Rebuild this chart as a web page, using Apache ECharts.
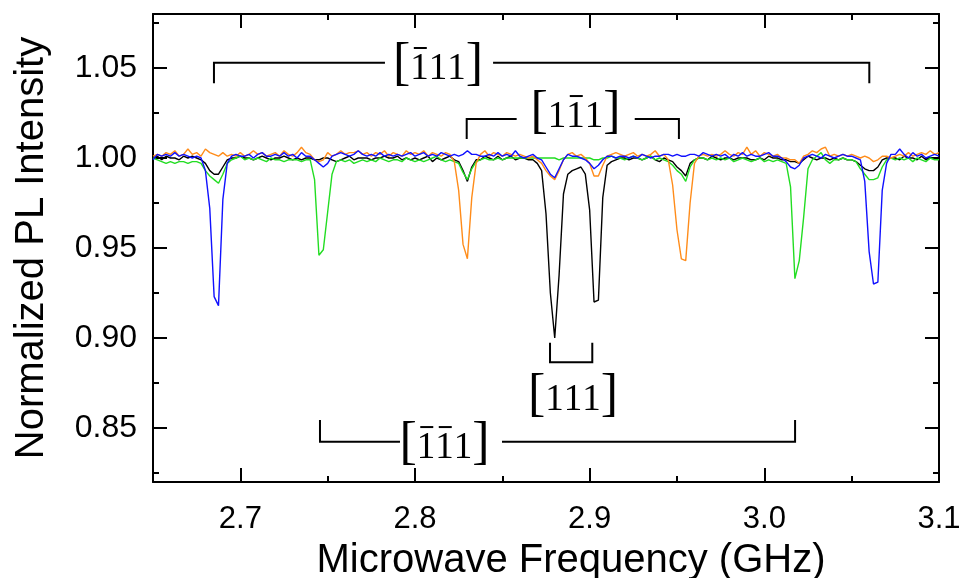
<!DOCTYPE html>
<html>
<head>
<meta charset="utf-8">
<script src="https://cdn.jsdelivr.net/npm/echarts@6/dist/echarts.min.js"></script>
<style>
  html, body { margin: 0; padding: 0; background: #fff; }
  #chart { width: 961px; height: 578px; }
</style>
</head>
<body>
<div id="chart"></div>
<script>
// Microwave frequency sweep (GHz)
const freq = [
  2.65,2.6525,2.655,2.6575,2.66,2.6625,2.665,2.6675,2.67,2.6725,
  2.675,2.6775,2.68,2.6825,2.685,2.6875,2.69,2.6925,2.695,2.6975,
  2.7,2.7025,2.705,2.7075,2.71,2.7125,2.715,2.7175,2.72,2.7225,
  2.725,2.7275,2.73,2.7325,2.735,2.7375,2.74,2.7425,2.745,2.7475,
  2.75,2.7525,2.755,2.7575,2.76,2.7625,2.765,2.7675,2.77,2.7725,
  2.775,2.7775,2.78,2.7825,2.785,2.7875,2.79,2.7925,2.795,2.7975,
  2.8,2.8025,2.805,2.8075,2.81,2.8125,2.815,2.8175,2.82,2.8225,
  2.825,2.8275,2.83,2.8325,2.835,2.8375,2.84,2.8425,2.845,2.8475,
  2.85,2.8525,2.855,2.8575,2.86,2.8625,2.865,2.8675,2.87,2.8725,
  2.875,2.8775,2.88,2.8825,2.885,2.8875,2.89,2.8925,2.895,2.8975,
  2.9,2.9025,2.905,2.9075,2.91,2.9125,2.915,2.9175,2.92,2.9225,
  2.925,2.9275,2.93,2.9325,2.935,2.9375,2.94,2.9425,2.945,2.9475,
  2.95,2.9525,2.955,2.9575,2.96,2.9625,2.965,2.9675,2.97,2.9725,
  2.975,2.9775,2.98,2.9825,2.985,2.9875,2.99,2.9925,2.995,2.9975,
  3,3.0025,3.005,3.0075,3.01,3.0125,3.015,3.0175,3.02,3.0225,
  3.025,3.0275,3.03,3.0325,3.035,3.0375,3.04,3.0425,3.045,3.0475,
  3.05,3.0525,3.055,3.0575,3.06,3.0625,3.065,3.0675,3.07,3.0725,
  3.075,3.0775,3.08,3.0825,3.085,3.0875,3.09,3.0925,3.095,3.0975,
  3.1
];

// Normalized PL, field along [111]
const plBlack = [
  1.000,1.001,0.999,1.001,1.000,1.000,0.999,1.001,1.000,1.001,
  1.000,0.999,0.997,0.993,0.991,0.991,0.995,0.999,1.000,1.000,
  1.001,1.000,1.000,0.999,1.000,1.001,1.000,0.999,1.000,1.000,
  1.001,1.000,0.999,1.000,0.999,1.000,1.000,0.999,0.999,1.000,
  1.000,0.999,0.998,0.999,1.000,1.001,0.999,1.000,1.000,1.000,
  0.999,1.000,1.000,1.001,1.000,1.000,1.001,0.999,1.000,0.999,
  1.000,0.999,1.000,1.001,0.998,1.000,0.999,1.000,1.001,0.999,
  0.998,0.993,0.987,0.995,0.999,0.999,1.001,1.000,0.999,1.001,
  0.999,1.000,1.001,0.999,1.000,1.000,0.999,0.999,0.997,0.993,
  0.969,0.925,0.900,0.935,0.980,0.991,0.993,0.994,0.995,0.991,
  0.971,0.920,0.921,0.978,0.996,0.998,0.999,1.000,1.000,0.999,
  1.000,1.000,0.999,1.000,1.001,0.999,0.998,1.000,0.999,0.998,
  0.995,0.993,0.990,0.997,0.999,1.000,1.000,0.999,1.001,1.000,
  0.999,1.000,1.000,0.999,1.000,1.000,1.000,0.999,0.999,1.000,
  0.999,1.001,1.000,1.000,0.999,0.999,0.998,0.998,0.997,0.999,
  1.001,1.000,0.999,1.000,1.000,0.999,1.000,0.999,1.000,0.999,
  0.999,0.998,0.996,0.994,0.993,0.993,0.995,0.999,1.000,1.000,
  1.000,0.999,1.001,1.000,1.000,0.999,1.001,0.999,1.000,1.000,
  0.999
];

// Normalized PL, field along [-111]
const plBlue = [
  0.999,1.002,1.001,1.002,1.001,1.003,1.001,1.002,1.001,1.000,
  1.001,1.000,0.993,0.972,0.923,0.918,0.977,0.997,1.001,1.002,
  1.001,1.001,1.002,1.000,1.002,1.003,1.001,1.001,1.002,1.001,
  1.003,1.001,1.002,1.000,1.003,1.001,1.001,0.999,0.997,0.995,
  0.997,1.001,1.002,1.003,1.002,1.001,1.002,1.004,1.002,1.001,
  1.002,1.001,1.003,1.001,1.002,1.001,1.002,1.001,1.002,1.003,
  1.001,1.002,1.003,1.001,1.002,1.001,1.003,1.002,1.001,1.002,
  1.001,1.002,1.004,1.002,1.002,1.001,1.001,1.002,1.001,1.003,
  1.001,1.002,1.001,1.004,1.001,1.000,1.001,1.002,1.000,0.999,
  0.995,0.991,0.989,0.994,0.999,1.002,1.001,1.001,1.000,0.999,
  0.997,0.994,0.996,0.999,1.001,1.001,1.000,1.001,1.001,1.000,
  1.001,1.000,1.002,1.001,1.000,1.001,1.001,1.002,1.002,1.001,
  1.002,1.001,1.001,1.002,1.002,1.001,1.003,1.002,1.001,1.002,
  1.001,1.002,1.000,1.002,1.001,1.003,1.001,1.002,1.001,1.001,
  1.002,1.003,1.001,1.001,1.000,0.998,0.995,0.994,0.996,1.000,
  1.001,1.002,1.001,1.000,1.002,1.001,1.000,1.001,1.002,1.001,
  1.001,1.000,0.999,0.987,0.948,0.930,0.931,0.982,0.997,1.002,
  1.002,1.005,1.002,1.000,1.003,1.001,1.002,1.000,1.001,1.002,
  1.001
];

// Normalized PL, field along [-1-11]
const plGreen = [
  1.000,0.999,0.998,0.997,0.998,0.997,0.998,0.998,0.997,0.998,
  0.998,0.997,0.993,0.990,0.988,0.986,0.991,0.997,0.999,1.000,
  1.001,0.999,1.000,0.999,1.000,0.999,0.998,1.000,0.999,0.999,
  0.998,0.999,0.999,0.999,0.998,0.999,0.999,0.988,0.946,0.949,
  0.970,0.991,0.998,0.999,0.998,0.999,0.997,0.998,0.999,0.998,
  0.999,0.998,1.000,0.999,0.998,0.999,0.999,0.998,1.000,0.999,
  0.998,0.999,0.998,0.999,1.000,1.001,0.999,0.998,0.999,0.998,
  0.997,0.992,0.988,0.994,0.998,0.999,1.000,0.999,0.999,1.000,
  0.999,1.000,1.000,1.000,1.000,1.000,1.000,1.000,1.000,1.000,
  1.000,1.000,1.000,0.999,1.000,1.000,1.000,1.000,1.000,1.000,
  1.000,0.999,0.999,1.000,1.000,1.001,1.000,1.000,0.999,1.000,
  1.001,1.000,0.999,1.000,1.001,0.999,1.000,0.999,0.998,0.996,
  0.993,0.991,0.987,0.995,0.999,1.000,1.000,0.999,1.000,0.999,
  1.000,0.999,1.000,0.998,0.999,1.000,0.999,0.998,0.999,1.000,
  0.998,0.999,0.998,0.999,0.998,0.997,0.984,0.933,0.943,0.967,
  0.994,0.999,1.001,1.003,0.999,0.997,0.999,0.999,1.000,0.999,
  0.999,0.998,0.994,0.991,0.988,0.988,0.989,0.995,0.999,1.000,
  0.999,1.000,0.999,1.000,0.998,1.000,0.999,0.998,1.000,0.999,
  0.999
];

// Normalized PL, field along [1-11]
const plOrange = [
  1.001,1.002,1.001,1.003,1.002,1.004,1.001,1.002,1.005,1.002,
  1.003,1.001,1.005,1.003,1.002,1.001,1.003,1.001,1.002,1.001,
  1.003,1.001,1.002,1.004,1.002,1.003,1.001,1.002,1.003,1.001,
  1.004,1.002,1.001,1.003,1.006,1.003,1.002,0.999,0.998,0.999,
  1.003,1.001,1.002,1.004,1.002,1.003,1.003,1.004,1.002,1.003,
  1.001,1.003,1.002,1.004,1.001,1.003,1.002,1.001,1.004,1.002,
  1.003,1.002,1.004,1.001,1.003,1.002,1.001,1.003,1.002,0.998,
  0.982,0.952,0.944,0.978,0.997,1.002,1.004,1.001,1.003,1.002,
  1.001,1.003,1.002,1.001,1.002,1.001,1.000,1.001,0.999,0.997,
  0.993,0.990,0.988,0.993,0.999,1.002,1.003,1.001,1.002,1.000,
  0.997,0.990,0.990,0.996,1.001,1.002,1.003,1.002,1.001,1.002,
  1.003,1.001,1.002,1.001,1.002,1.004,1.001,1.002,0.999,0.985,
  0.960,0.944,0.943,0.975,0.997,1.001,1.002,1.001,1.002,1.001,
  1.002,1.004,1.002,1.001,1.003,1.002,1.006,1.002,1.004,1.001,
  1.003,1.002,1.001,1.002,1.000,1.000,0.999,0.999,0.997,1.001,
  1.002,1.004,1.003,1.005,1.006,1.001,1.002,1.001,1.002,1.001,
  1.002,1.001,1.000,1.001,1.000,0.998,0.999,1.001,1.001,1.000,
  1.001,1.002,1.001,1.003,1.001,1.002,1.003,1.002,1.004,1.002,
  1.003
];

const xRange = [2.65, 3.1];
const yRange = [0.82, 1.08];
const xMajorTicks = [2.7, 2.8, 2.9, 3.0, 3.1];
const xMinorTicks = [2.65, 2.75, 2.85, 2.95, 3.05];
const yMajorTicks = [0.85, 0.90, 0.95, 1.00, 1.05];
const yMinorTicks = [0.825, 0.875, 0.925, 0.975, 1.025, 1.075];

// Crystal-direction brackets, in data coordinates
const directionMarks = [
  { digits: ['1','1','1'], bars: [true, false, false], from: 2.6849, to: 3.0601,
    lineY: 1.0529, tipY: 1.0415, gap: [2.7828, 2.8447], textX: 2.8132, baseY: 1.0439 },
  { digits: ['1','1','1'], bars: [false, true, false], from: 2.8296, to: 2.9511,
    lineY: 1.0217, tipY: 1.0106, gap: [2.8582, 2.9258], textX: 2.8919, baseY: 1.0172 },
  { digits: ['1','1','1'], bars: [false, false, false], from: 2.8773, to: 2.9015,
    lineY: 0.8865, tipY: 0.8974, gap: null, textX: 2.8905, baseY: 0.8600 },
  { digits: ['1','1','1'], bars: [true, true, false], from: 2.7456, to: 3.0176,
    lineY: 0.8424, tipY: 0.8544, gap: [2.7914, 2.8498], textX: 2.8169, baseY: 0.8333 }
];

const SANS = '"Liberation Sans", Arial, sans-serif';
const SERIF = '"Liberation Serif", "Times New Roman", serif';
const DIGIT_FONT = '37px ' + SERIF;
const BRACKET_FONT = '52px ' + SERIF;

const chart = echarts.init(document.getElementById('chart'), null, { renderer: 'canvas' });

function line(data, color) {
  return {
    type: 'line',
    data: freq.map((f, i) => [f, data[i]]),
    showSymbol: false,
    symbol: 'none',
    lineStyle: { color: color, width: 1.4 },
    itemStyle: { color: color },
    xAxisIndex: 0,
    yAxisIndex: 0,
    animation: false,
    silent: true
  };
}

const axisLineStyle = { show: true, lineStyle: { color: '#000', width: 2 } };

function xAxisCfg(pos, ticks, len, labels, withLine) {
  return {
    type: 'value', min: xRange[0], max: xRange[1], position: pos,
    axisLine: withLine ? axisLineStyle : { show: false },
    axisTick: { show: true, inside: true, length: len, customValues: ticks,
      lineStyle: { color: '#000', width: 2 } },
    axisLabel: labels ? { show: true, customValues: ticks, formatter: v => v.toFixed(1),
      fontSize: 31, fontFamily: SANS, color: '#000', margin: 22 } : { show: false },
    splitLine: { show: false }
  };
}
function yAxisCfg(pos, ticks, len, labels, withLine) {
  return {
    type: 'value', min: yRange[0], max: yRange[1], position: pos,
    axisLine: withLine ? axisLineStyle : { show: false },
    axisTick: { show: true, inside: true, length: len, customValues: ticks,
      lineStyle: { color: '#000', width: 2 } },
    axisLabel: labels ? { show: true, customValues: ticks, formatter: v => v.toFixed(2),
      fontSize: 32, fontFamily: SANS, color: '#000', margin: 16 } : { show: false },
    splitLine: { show: false }
  };
}

const xBottom = xAxisCfg('bottom', xMajorTicks, 14, true, true);
xBottom.name = 'Microwave Frequency (GHz)';
xBottom.nameLocation = 'middle';
xBottom.nameGap = 59;
xBottom.nameTextStyle = { fontSize: 40, fontFamily: SANS, color: '#000', padding: [0, 0, 0, 50] };

const yLeft = yAxisCfg('left', yMajorTicks, 14, true, true);
yLeft.name = 'Normalized PL Intensity';
yLeft.nameLocation = 'middle';
yLeft.nameGap = 101;
yLeft.nameTextStyle = { fontSize: 40, fontFamily: SANS, color: '#000' };

chart.setOption({
  animation: false,
  backgroundColor: '#fff',
  grid: { left: 153, right: 22, top: 14, bottom: 96, containLabel: false, outerBoundsMode: 'none' },
  xAxis: [
    xBottom,
    xAxisCfg('bottom', xMinorTicks, 6, false, false),
    xAxisCfg('top', xMajorTicks, 14, false, true),
    xAxisCfg('top', xMinorTicks, 6, false, false)
  ],
  yAxis: [
    yLeft,
    yAxisCfg('left', yMinorTicks, 6, false, false),
    yAxisCfg('right', yMajorTicks, 14, false, true),
    yAxisCfg('right', yMinorTicks, 6, false, false)
  ],
  series: [
    line(plBlack, '#000000'),
    line(plGreen, '#22dd22'),
    line(plOrange, '#ff8c1a'),
    line(plBlue, '#1010ff')
  ]
});

// ---- direction brackets and Miller-index labels ----
const ctx2d = document.createElement('canvas').getContext('2d');
function glyphMetrics(font, s) {
  ctx2d.font = font;
  ctx2d.textBaseline = 'alphabetic';
  const a = ctx2d.measureText(s);
  ctx2d.textBaseline = 'middle';
  const m = ctx2d.measureText(s);
  return {
    w: a.width,
    shift: a.actualBoundingBoxAscent - m.actualBoundingBoxAscent,
    asc: a.actualBoundingBoxAscent,
    left: a.actualBoundingBoxLeft,
    right: a.actualBoundingBoxRight
  };
}

const toPx = (x, y) => chart.convertToPixel({ xAxisIndex: 0, yAxisIndex: 0 }, [x, y]);
const graphics = [];
const stroke = { stroke: '#000', lineWidth: 2, fill: null };

directionMarks.forEach(mk => {
  const a = toPx(mk.from, mk.lineY);
  const b = toPx(mk.to, mk.lineY);
  const tipA = toPx(mk.from, mk.tipY);
  const tipB = toPx(mk.to, mk.tipY);
  if (mk.gap) {
    const g0 = toPx(mk.gap[0], mk.lineY);
    const g1 = toPx(mk.gap[1], mk.lineY);
    graphics.push({ type: 'polyline', silent: true, z: 20,
      shape: { points: [tipA, a, g0] }, style: stroke });
    graphics.push({ type: 'polyline', silent: true, z: 20,
      shape: { points: [g1, b, tipB] }, style: stroke });
  } else {
    graphics.push({ type: 'polyline', silent: true, z: 20,
      shape: { points: [tipA, a, b, tipB] }, style: stroke });
  }

  // label: [ d d d ] with optional overbars
  const parts = [{ t: '[', f: BRACKET_FONT }]
    .concat(mk.digits.map((d, i) => ({ t: d, f: DIGIT_FONT, bar: mk.bars[i] })))
    .concat([{ t: ']', f: BRACKET_FONT }]);
  parts.forEach(p => { p.m = glyphMetrics(p.f, p.t); });
  const total = parts.reduce((s, p) => s + p.m.w, 0);
  const c = toPx(mk.textX, mk.baseY);
  let x = c[0] - total / 2;
  const base = c[1];
  parts.forEach(p => {
    graphics.push({
      type: 'text', silent: true, z: 20,
      x: x, y: base - p.m.shift,
      style: { text: p.t, font: p.f, fill: '#000',
        align: 'left', verticalAlign: 'middle',
        textAlign: 'left', textVerticalAlign: 'middle' }
    });
    if (p.bar) {
      const cx = x + (p.m.right - p.m.left) / 2;
      const top = base - p.m.asc - 6;
      graphics.push({ type: 'line', silent: true, z: 20,
        shape: { x1: cx - 6.5, y1: top, x2: cx + 6.5, y2: top },
        style: { stroke: '#000', lineWidth: 2 } });
    }
    x += p.m.w;
  });
});

chart.setOption({ graphic: graphics });
</script>
</body>
</html>
